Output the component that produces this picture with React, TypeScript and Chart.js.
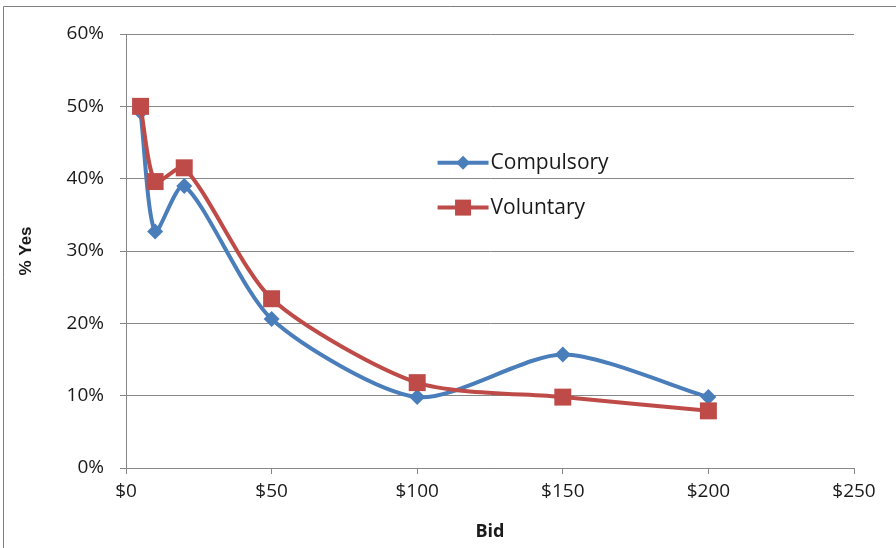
import React, { useEffect, useRef } from "react";
import { Chart, registerables } from "chart.js";
Chart.register(...registerables);

const bids = [5, 10, 20, 50, 100, 150, 200];
const compulsory = [49.2, 32.7, 39.0, 20.6, 9.8, 15.7, 9.8];
const voluntary = [50.0, 39.6, 41.5, 23.4, 11.8, 9.8, 7.9];
const seriesNames = ["Compulsory", "Voluntary"];
const xTitle = "Bid";
const yTitle = "% Yes";

const BLUE = "#4A7EBB";
const RED = "#BE4B48";
const GRID = "#878787";
const TEXT = "#1a1a1a";
const FONT = "'Open Sans', 'Noto Sans', sans-serif";

function drawDiamond(ctx: CanvasRenderingContext2D, x: number, y: number, r: number) {
  ctx.beginPath();
  ctx.moveTo(x, y - r);
  ctx.lineTo(x + r, y);
  ctx.lineTo(x, y + r);
  ctx.lineTo(x - r, y);
  ctx.closePath();
  ctx.fill();
}

const framePlugin = {
  id: "frame",
  beforeDraw(chart: any) {
    const ctx = chart.ctx;
    ctx.save();
    ctx.fillStyle = "#ffffff";
    ctx.fillRect(0, 0, chart.width, chart.height);
    ctx.strokeStyle = "#7f7f7f";
    ctx.lineWidth = 1;
    ctx.beginPath();
    ctx.moveTo(3.5, chart.height + 2);
    ctx.lineTo(3.5, 6.5);
    ctx.lineTo(chart.width + 2, 6.5);
    ctx.stroke();
    ctx.restore();
  },
};

const legendPlugin = {
  id: "customLegend",
  afterDatasetsDraw(chart: any) {
    const ctx = chart.ctx;
    const xScale = chart.scales.x;
    const yScale = chart.scales.y;
    const x0 = xScale.getPixelForValue(107);
    const x1 = xScale.getPixelForValue(124.5);
    const xm = (x0 + x1) / 2;
    const rows = [
      { name: seriesNames[0], color: BLUE, y: yScale.getPixelForValue(42.2), marker: "diamond" },
      { name: seriesNames[1], color: RED, y: yScale.getPixelForValue(36.0), marker: "square" },
    ];
    ctx.save();
    for (const r of rows) {
      ctx.strokeStyle = r.color;
      ctx.fillStyle = r.color;
      ctx.lineWidth = 4;
      ctx.beginPath();
      ctx.moveTo(x0, r.y);
      ctx.lineTo(x1, r.y);
      ctx.stroke();
      if (r.marker === "diamond") drawDiamond(ctx, xm, r.y, 7);
      else ctx.fillRect(xm - 8, r.y - 8, 16, 16);
      ctx.fillStyle = TEXT;
      ctx.font = `21px ${FONT}`;
      ctx.textBaseline = "middle";
      ctx.textAlign = "left";
      ctx.fillText(r.name, x1 + 2, r.y);
    }
    ctx.restore();
  },
};

export default function App() {
  const ref = useRef<HTMLCanvasElement | null>(null);
  useEffect(() => {
    document.body.style.margin = "0";
    const canvas = ref.current!;
    const chart = new Chart(canvas, {
      type: "line",
      data: {
        datasets: [
          {
            label: seriesNames[0],
            data: bids.map((b, i) => ({ x: b, y: compulsory[i] })),
            borderColor: BLUE,
            backgroundColor: BLUE,
            borderWidth: 4,
            tension: 0.25,
            pointStyle: "rectRot",
            pointRadius: 8,
            pointBorderWidth: 0,
            order: 2,
          },
          {
            label: seriesNames[1],
            data: bids.map((b, i) => ({ x: b, y: voluntary[i] })),
            borderColor: RED,
            backgroundColor: RED,
            borderWidth: 4,
            tension: 0.25,
            pointStyle: "rect",
            pointRadius: 12,
            pointBorderWidth: 0,
            order: 1,
          },
        ],
      },
      options: {
        responsive: false,
        animation: false,
        layout: { padding: { top: 34, right: 42, bottom: 5, left: 8 } },
        plugins: { legend: { display: false }, tooltip: { enabled: false } },
        scales: {
          x: {
            type: "linear",
            min: 0,
            max: 250,
            afterFit: (s: any) => {
              s.height = 75;
            },
            ticks: {
              stepSize: 50,
              padding: 6,
              color: TEXT,
              font: { family: FONT, size: 19 },
              callback: (v: any) => "$" + v,
              maxRotation: 0,
            },
            grid: { drawOnChartArea: false, drawTicks: true, tickLength: 6, color: GRID },
            border: { color: GRID, width: 1 },
            title: {
              display: true,
              text: xTitle,
              color: TEXT,
              font: { family: FONT, size: 18, weight: "bold" },
              padding: { top: 0, bottom: 0 },
            },
          },
          y: {
            min: 0,
            max: 60,
            afterFit: (s: any) => {
              s.width = 118;
            },
            ticks: {
              stepSize: 10,
              padding: 16,
              color: TEXT,
              font: { family: FONT, size: 19 },
              callback: (v: any) => v + "%",
            },
            grid: { drawOnChartArea: true, drawTicks: true, tickLength: 6, color: GRID },
            border: { color: GRID, width: 1 },
            title: {
              display: true,
              text: yTitle,
              color: TEXT,
              font: { family: "'Liberation Sans', Arial, sans-serif", size: 17, weight: "bold" },
              padding: { top: 8, bottom: 0 },
            },
          },
        },
      },
      plugins: [framePlugin, legendPlugin],
    });
    return () => chart.destroy();
  }, []);
  return (
    <div style={{ position: "fixed", left: 0, top: 0, width: 896, height: 548 }}>
      <canvas ref={ref} width={896} height={548} />
    </div>
  );
}
